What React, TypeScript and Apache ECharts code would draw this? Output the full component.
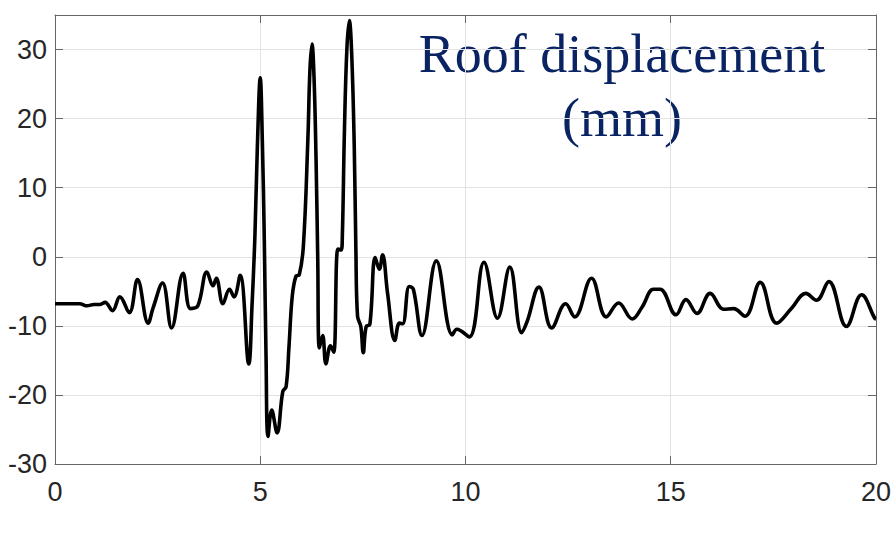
import React, { useEffect, useRef } from "react";
import * as echarts from "echarts";

const timeS: number[] = [
  0, 0.3, 0.6, 0.78, 0.95, 1.1, 1.22, 1.4, 1.58, 1.81, 2.01, 2.27, 2.39, 2.62, 2.84, 3.12, 3.3, 3.48, 3.7, 3.85,
  3.93, 4.09, 4.25, 4.36, 4.51, 4.72, 4.8, 4.87, 4.93, 5.0, 5.05, 5.1, 5.14, 5.19, 5.28, 5.41, 5.55, 5.63, 5.7,
  5.78, 5.87, 5.95, 6.05, 6.16, 6.21, 6.26, 6.31, 6.36, 6.4, 6.44, 6.52, 6.6, 6.71, 6.79, 6.89, 6.97, 7.0, 7.05,
  7.11, 7.17, 7.23, 7.29, 7.33, 7.37, 7.45, 7.51, 7.58, 7.67, 7.8, 7.9, 7.98, 8.1, 8.28, 8.39, 8.47, 8.63, 8.73,
  8.94, 9.29, 9.68, 9.79, 10.09, 10.45, 10.78, 11.08, 11.37, 11.5, 11.79, 12.1, 12.44, 12.66, 13.07, 13.43, 13.73,
  14.06, 14.3, 14.58, 14.74, 15.13, 15.37, 15.64, 15.96, 16.29, 16.53, 16.81, 17.18, 17.58, 17.95, 18.29, 18.55,
  18.85, 19.28, 19.65, 19.97, 20.0,
];

const roofDisplacementMm: number[] = [
  -6.8, -6.8, -6.8, -7.1, -6.9, -6.9, -6.6, -7.8, -5.8, -8.1, -3.3, -9.6, -7.4, -3.8, -10.3, -2.4, -7.5, -7.1, -2.2, -4.2,
  -3.1, -6.8, -4.7, -5.8, -2.7, -15.5, -7, 3, 16, 25.9, 17, 2, -14, -26.0, -22.2, -25.5, -19.5, -18.8, -13,
  -5.7, -2.8, -2.6, 1.5, 17, 27, 30.8, 26, 14, 0, -13.2, -11.4, -15.5, -12.9, -13.8, 1.1, 1.0, 3, 18,
  30, 34.2, 29, 16, 1, -8.6, -10.1, -13.9, -10.1, -9.8, -0.1, -1.8, 0.3, -5.2, -12.1, -9.6, -9.7, -4.3, -4.7,
  -11.4, -0.6, -11.3, -10.5, -11.6, -0.8, -8.9, -1.5, -11.0, -9.4, -4.4, -10.3, -6.8, -8.7, -3.1, -8.7, -6.7,
  -9.0, -7.3, -4.7, -4.7, -8.4, -6.2, -8.2, -5.3, -7.6, -7.5, -8.6, -3.7, -9.6, -7.4, -5.3, -6.3,
  -3.6, -10.1, -5.5, -8.9, -9.0,
];

const xTicks: number[] = [0, 5, 10, 15, 20];
const yTicks: number[] = [-30, -20, -10, 0, 10, 20, 30];
const titleLines: string[] = ["Roof displacement", "(mm)"];

export default function App() {
  const ref = useRef<HTMLDivElement>(null);

  useEffect(() => {
    if (!ref.current) return;
    const chart = echarts.init(ref.current, undefined, { renderer: "svg" });
    const axisColor = "#666666";
    const gridColor = "#e3e3e3";
    const labelFont = {
      color: "#262626",
      fontFamily: "'Liberation Sans', Arial, sans-serif",
      fontSize: 27,
    };
    const data = timeS.map((t, i) => [t, roofDisplacementMm[i]]);
    const lineCommon = { show: true, onZero: false, lineStyle: { color: axisColor, width: 1 } };
    const tickCommon = { show: true, inside: true, length: 8, lineStyle: { color: axisColor } };
    chart.setOption({
      animation: false,
      backgroundColor: "#ffffff",
      grid: { left: 55, right: 16, top: 15, bottom: 83 },
      xAxis: [
        {
          type: "value",
          min: xTicks[0],
          max: xTicks[xTicks.length - 1],
          interval: 5,
          position: "bottom",
          axisLine: lineCommon,
          axisTick: tickCommon,
          axisLabel: { ...labelFont, margin: 14 },
          splitLine: { show: true, lineStyle: { color: gridColor, width: 1 } },
        },
        {
          type: "value",
          min: xTicks[0],
          max: xTicks[xTicks.length - 1],
          interval: 5,
          position: "top",
          axisLine: lineCommon,
          axisTick: tickCommon,
          axisLabel: { show: false },
          splitLine: { show: false },
        },
      ],
      yAxis: [
        {
          type: "value",
          min: yTicks[0],
          max: 35,
          interval: 10,
          position: "left",
          axisLine: lineCommon,
          axisTick: tickCommon,
          axisLabel: { ...labelFont, margin: 8, showMaxLabel: false },
          splitLine: { show: true, lineStyle: { color: gridColor, width: 1 } },
        },
        {
          type: "value",
          min: yTicks[0],
          max: 35,
          interval: 10,
          position: "right",
          axisLine: lineCommon,
          axisTick: tickCommon,
          axisLabel: { show: false },
          splitLine: { show: false },
        },
      ],
      series: [
        {
          type: "line",
          xAxisIndex: 0,
          yAxisIndex: 0,
          data,
          smooth: 0.4,
          showSymbol: false,
          lineStyle: { color: "#000000", width: 3.6 },
        },
      ],
      graphic: [
        {
          type: "text",
          x: 622,
          y: 54,
          style: {
            text: titleLines[0],
            fill: "#0a2463",
            font: "54px 'Liberation Serif', 'Times New Roman', serif",
            textAlign: "center",
            textVerticalAlign: "middle",
          },
        },
        {
          type: "text",
          x: 622,
          y: 118,
          style: {
            text: titleLines[1],
            fill: "#0a2463",
            font: "54px 'Liberation Serif', 'Times New Roman', serif",
            textAlign: "center",
            textVerticalAlign: "middle",
          },
        },
      ],
    });
    return () => chart.dispose();
  }, []);

  return (
    <div
      ref={ref}
      style={{ position: "fixed", left: 0, top: 0, width: 894, height: 547, background: "#fff" }}
    />
  );
}
